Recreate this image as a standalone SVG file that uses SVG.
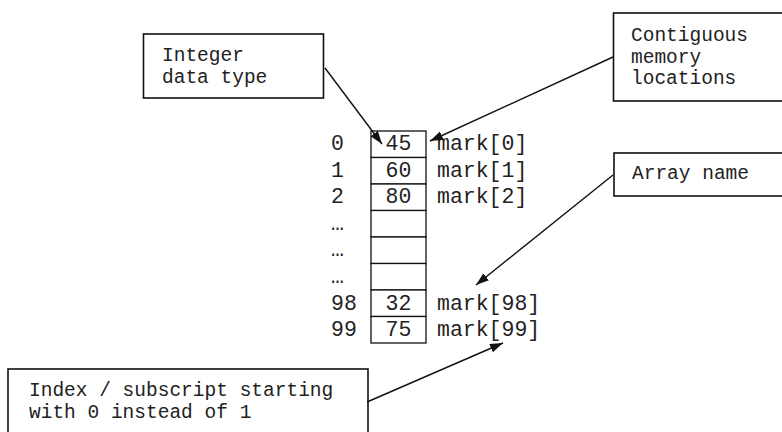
<svg xmlns="http://www.w3.org/2000/svg" width="782" height="432" viewBox="0 0 782 432">
<style>
.box{fill:#fff;stroke:#111;stroke-width:1.6}
.cell{fill:#fff;stroke:#111;stroke-width:1.3}
.t{font-family:"Liberation Mono","Courier New",monospace;font-size:19.5px;fill:#222}
.a{font-family:"Liberation Mono","Courier New",monospace;font-size:21.5px;fill:#222}
.c{stroke:#111;stroke-width:1.4;fill:none;marker-end:url(#ah)}
</style>
<defs>
<marker id="ah" markerUnits="userSpaceOnUse" markerWidth="14" markerHeight="10" refX="13" refY="4.5" orient="auto">
<path d="M0,0 L13,4.5 L0,9 z" fill="#111"/>
</marker>
</defs>
<rect width="782" height="432" fill="#fff"/>
<g id="integer-box">
<rect class="box" x="143.5" y="34" width="180" height="64"/>
<text class="t" x="162" y="61">Integer</text>
<text class="t" x="162" y="83">data type</text>
</g>
<g id="contiguous-box">
<rect class="box" x="613.5" y="13" width="180" height="88"/>
<text class="t" x="631" y="41">Contiguous</text>
<text class="t" x="631" y="62.5">memory</text>
<text class="t" x="631" y="84">locations</text>
</g>
<g id="arrayname-box">
<rect class="box" x="614" y="153" width="180" height="43"/>
<text class="t" x="632" y="179">Array name</text>
</g>
<g id="index-box">
<rect class="box" x="8" y="369" width="360" height="80"/>
<text class="t" x="29" y="396">Index / subscript starting</text>
<text class="t" x="29" y="418">with 0 instead of 1</text>
</g>
<g id="array">
<rect class="cell" x="371" y="131" width="55" height="26.5"/>
<rect class="cell" x="371" y="157.5" width="55" height="26.5"/>
<rect class="cell" x="371" y="184" width="55" height="26.5"/>
<rect class="cell" x="371" y="210.5" width="55" height="26.5"/>
<rect class="cell" x="371" y="237" width="55" height="26.5"/>
<rect class="cell" x="371" y="263.5" width="55" height="26.5"/>
<rect class="cell" x="371" y="290" width="55" height="26.5"/>
<rect class="cell" x="371" y="316.5" width="55" height="26.5"/>
<g text-anchor="middle" class="a">
<text class="a" x="398.5" y="150">45</text>
<text class="a" x="398.5" y="176.5">60</text>
<text class="a" x="398.5" y="203">80</text>
<text class="a" x="398.5" y="309.5">32</text>
<text class="a" x="398.5" y="336">75</text>
</g>
<text class="a" x="331" y="150">0</text>
<text class="a" x="331" y="176.5">1</text>
<text class="a" x="331" y="203">2</text>
<text class="a" x="331" y="229.5">…</text>
<text class="a" x="331" y="256">…</text>
<text class="a" x="331" y="282.5">…</text>
<text class="a" x="331" y="309.5">98</text>
<text class="a" x="331" y="336">99</text>
<text class="a" x="437" y="150">mark[0]</text>
<text class="a" x="437" y="176.5">mark[1]</text>
<text class="a" x="437" y="203">mark[2]</text>
<text class="a" x="437" y="309.5">mark[98]</text>
<text class="a" x="437" y="336">mark[99]</text>
</g>
<g id="connectors">
<line class="c" x1="325" y1="68" x2="382" y2="144"/>
<line class="c" x1="613" y1="57" x2="430" y2="141"/>
<line class="c" x1="613" y1="175" x2="476" y2="285"/>
<line class="c" x1="367" y1="402" x2="503" y2="343"/>
</g>
</svg>
